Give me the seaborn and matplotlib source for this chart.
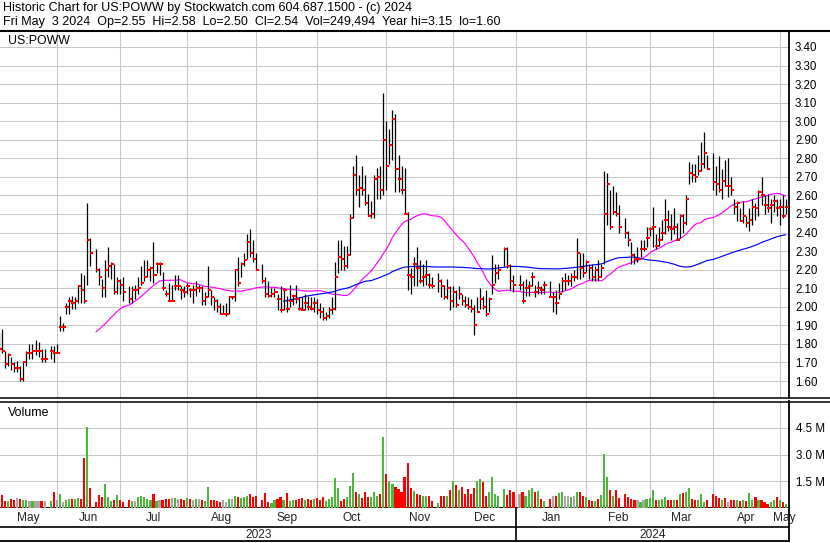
import numpy as np
import pandas as pd
import matplotlib
matplotlib.use("Agg")
import matplotlib.pyplot as plt
from matplotlib.lines import Line2D
import seaborn as sns

# ---------------- data (daily high / low / close, volume in millions) ----------------
start_date = "2023-05-05"
end_date = "2024-05-03"
holidays = ["2023-05-29", "2023-06-19", "2023-07-04", "2023-09-04", "2023-11-23",
            "2023-12-25", "2024-01-01", "2024-01-15", "2024-02-19", "2024-03-29"]

high_may23 = [1.86,1.88,1.76,1.75,1.73,1.70,1.71,1.68,1.71,1.76,1.80,1.80,1.82,1.81,1.77,1.77,1.79,1.79]
low_may23 = [1.72,1.75,1.67,1.68,1.66,1.65,1.65,1.60,1.60,1.68,1.72,1.72,1.74,1.73,1.70,1.70,1.72,1.70]
close_may23 = [1.77,1.76,1.69,1.74,1.69,1.67,1.67,1.61,1.70,1.75,1.75,1.76,1.76,1.76,1.72,1.72,1.76,1.75]
vol_may23 = [0.45,0.75,0.40,0.40,0.50,0.45,0.55,0.50,0.45,0.45,0.42,0.40,0.42,0.40,0.40,0.42,0.40,0.90]

high_jun23 = [1.80,1.95,1.91,2.02,2.05,2.06,2.05,2.12,2.18,2.17,2.56,2.37,2.31,2.21,2.15,2.25,2.32,2.24,2.23,2.16,2.15]
low_jun23 = [1.75,1.87,1.87,1.96,1.96,1.99,1.99,2.02,2.02,2.02,2.12,2.22,2.19,2.12,2.05,2.05,2.16,2.15,2.07,2.07,2.07]
close_jun23 = [1.75,1.89,1.89,2.00,2.03,2.02,2.03,2.11,2.09,2.03,2.36,2.29,2.20,2.16,2.10,2.20,2.22,2.23,2.08,2.14,2.12]
vol_jun23 = [0.45,0.80,0.35,0.45,0.50,0.50,0.50,0.55,0.50,2.80,4.55,1.10,0.35,0.75,0.60,1.35,0.60,0.40,0.45,0.75,0.45]

high_jul23 = [2.16,2.11,2.11,2.12,2.16,2.22,2.25,2.25,2.22,2.35,2.24,2.24,2.19,2.09,2.13,2.12,2.17,2.17,2.11,2.11]
low_jul23 = [2.03,2.02,2.02,2.04,2.07,2.12,2.14,2.16,2.14,2.13,2.18,2.17,2.09,2.06,2.03,2.03,2.09,2.09,2.04,2.05]
close_jul23 = [2.08,2.04,2.09,2.09,2.10,2.13,2.16,2.20,2.21,2.17,2.23,2.23,2.10,2.07,2.03,2.03,2.11,2.11,2.09,2.08]
vol_jul23 = [0.35,0.45,0.40,0.40,0.60,0.70,0.60,0.50,0.45,0.80,0.40,0.45,0.45,0.50,0.50,0.55,0.55,0.50,0.50,0.45]

high_aug23 = [2.13,2.10,2.12,2.14,2.12,2.11,2.08,2.22,2.09,2.05,2.04,2.02,2.01,2.02,2.06,2.06,2.20,2.27,2.24,2.29,2.39,2.42,2.36]
low_aug23 = [2.07,2.05,2.02,2.06,2.08,2.01,2.01,2.05,2.01,1.98,1.97,1.96,1.96,1.95,1.96,2.04,2.03,2.11,2.16,2.22,2.26,2.27,2.24]
close_aug23 = [2.11,2.09,2.09,2.10,2.10,2.03,2.05,2.09,2.05,2.03,2.00,1.96,1.96,1.96,2.05,2.05,2.20,2.13,2.23,2.25,2.35,2.29,2.26]
vol_aug23 = [0.55,0.50,0.45,0.50,0.50,0.45,0.40,1.15,0.45,0.45,0.40,0.35,0.45,0.35,0.50,0.50,0.65,0.60,0.55,0.60,0.65,0.80,0.60]

high_sep23 = [2.29,2.23,2.16,2.14,2.10,2.10,2.07,2.11,2.10,2.06,2.12,2.07,2.12,2.05,2.05,2.07,2.06,2.05,2.05,2.04]
low_sep23 = [2.20,2.13,2.05,2.05,2.05,2.05,1.98,1.97,1.98,1.97,2.00,2.01,2.02,1.98,1.98,1.98,1.98,1.98,1.97,1.96]
close_sep23 = [2.20,2.14,2.07,2.06,2.07,2.08,2.04,1.98,2.09,1.99,2.03,2.06,2.04,1.99,1.98,2.02,2.00,1.99,2.02,1.98]
vol_sep23 = [0.65,0.45,0.85,0.35,0.30,0.45,0.50,0.60,0.45,0.85,0.40,0.45,0.45,0.50,0.55,0.45,0.50,0.45,0.50,0.55]

high_oct23 = [2.02,2.00,1.97,2.00,2.05,2.24,2.36,2.36,2.33,2.33,2.50,2.76,2.82,2.71,2.76,2.71,2.61,2.57,2.71,2.75,2.76,3.15]
low_oct23 = [1.94,1.93,1.93,1.94,1.96,1.98,2.18,2.20,2.20,2.21,2.28,2.48,2.60,2.54,2.60,2.55,2.49,2.48,2.48,2.58,2.58,2.60]
close_oct23 = [1.97,1.94,1.95,1.98,1.99,2.16,2.27,2.26,2.22,2.28,2.48,2.71,2.63,2.64,2.63,2.56,2.49,2.50,2.69,2.70,2.63,2.90]
vol_oct23 = [0.45,0.60,0.40,0.50,0.60,1.70,1.10,0.40,0.50,0.60,1.25,1.95,0.90,0.80,0.55,0.90,0.60,0.60,0.90,0.70,0.80,4.00]

high_nov23 = [3.00,2.96,3.06,3.04,2.82,2.76,2.75,2.51,2.21,2.27,2.32,2.25,2.23,2.25,2.18,2.16,2.18,2.15,2.12,2.15,2.11]
low_nov23 = [2.63,2.77,2.79,2.62,2.62,2.61,2.50,2.09,2.07,2.11,2.11,2.13,2.11,2.12,2.10,2.10,2.08,2.05,2.04,2.04,1.98]
close_nov23 = [2.76,2.87,3.01,2.74,2.69,2.63,2.50,2.17,2.16,2.23,2.21,2.14,2.16,2.17,2.12,2.11,2.14,2.11,2.05,2.10,2.03]
vol_nov23 = [1.90,1.50,1.35,1.20,1.05,0.90,1.75,2.50,1.10,0.95,0.80,0.75,0.70,0.70,0.70,0.40,0.30,0.70,0.70,0.70,1.00]

high_dec23 = [2.11,2.09,2.11,2.07,2.06,2.05,2.04,2.01,2.05,2.10,2.06,2.09,2.05,2.28,2.23,2.23,2.32,2.32,2.23,2.17]
low_dec23 = [2.00,2.00,2.04,2.01,2.00,1.99,1.97,1.85,1.97,1.99,1.99,1.95,1.97,2.07,2.13,2.15,2.22,2.21,2.09,2.08]
close_dec23 = [2.08,2.01,2.07,2.03,2.01,2.00,1.99,1.90,1.97,2.04,2.00,1.96,2.04,2.12,2.18,2.20,2.31,2.22,2.14,2.12]
vol_dec23 = [1.50,1.30,1.00,1.15,0.80,1.05,0.80,1.10,1.50,1.60,1.45,0.70,0.90,1.75,0.80,0.70,1.05,0.75,1.00,0.90]

high_jan24 = [2.17,2.14,2.15,2.14,2.19,2.12,2.14,2.11,2.14,2.14,2.08,2.09,2.13,2.16,2.18,2.17,2.18,2.20,2.37,2.29,2.29]
low_jan24 = [2.09,2.02,2.06,2.06,2.11,2.05,2.07,2.07,2.07,2.05,1.97,1.96,2.04,2.08,2.09,2.12,2.11,2.14,2.15,2.15,2.16]
close_jan24 = [2.12,2.03,2.10,2.11,2.16,2.08,2.10,2.09,2.12,2.05,2.05,2.02,2.07,2.14,2.14,2.14,2.16,2.16,2.29,2.21,2.18]
vol_jan24 = [0.80,0.90,0.70,1.00,1.10,0.90,0.95,0.50,0.40,0.50,0.70,0.70,0.85,0.90,0.70,0.70,0.60,0.70,0.90,0.90,0.70]

high_feb24 = [2.25,2.23,2.23,2.22,2.25,2.23,2.73,2.72,2.63,2.65,2.62,2.55,2.48,2.41,2.35,2.29,2.32,2.36,2.36,2.43]
low_feb24 = [2.19,2.15,2.14,2.14,2.14,2.16,2.23,2.44,2.42,2.50,2.49,2.40,2.37,2.33,2.23,2.23,2.24,2.27,2.30,2.32]
close_feb24 = [2.24,2.21,2.16,2.20,2.16,2.21,2.50,2.66,2.43,2.51,2.50,2.43,2.40,2.36,2.28,2.26,2.26,2.31,2.31,2.37]
vol_feb24 = [0.60,0.45,0.40,0.40,0.50,0.75,3.05,1.75,1.00,0.65,1.00,0.55,0.80,0.60,0.50,0.45,0.45,0.35,0.45,0.50]

high_mar24 = [2.43,2.54,2.39,2.43,2.47,2.58,2.52,2.50,2.53,2.45,2.50,2.50,2.60,2.78,2.77,2.77,2.82,2.89,2.94,2.82]
low_mar24 = [2.38,2.32,2.31,2.33,2.36,2.39,2.41,2.36,2.39,2.36,2.37,2.40,2.44,2.66,2.67,2.67,2.71,2.73,2.75,2.74]
close_mar24 = [2.42,2.43,2.33,2.36,2.40,2.47,2.43,2.42,2.43,2.36,2.49,2.45,2.58,2.72,2.71,2.70,2.73,2.77,2.83,2.74]
vol_mar24 = [0.55,1.00,0.45,0.45,0.50,0.60,0.45,0.45,0.45,0.45,0.80,0.85,0.90,1.10,0.50,0.45,0.45,0.80,0.35,0.45]

high_apr24 = [2.83,2.76,2.81,2.74,2.79,2.80,2.70,2.58,2.57,2.53,2.57,2.49,2.53,2.58,2.56,2.63,2.70,2.60,2.61,2.58,2.60,2.58]
low_apr24 = [2.63,2.60,2.62,2.58,2.65,2.59,2.60,2.50,2.46,2.46,2.45,2.43,2.41,2.44,2.47,2.49,2.55,2.50,2.51,2.45,2.51,2.49]
close_apr24 = [2.67,2.66,2.63,2.68,2.65,2.65,2.63,2.54,2.56,2.46,2.49,2.45,2.47,2.54,2.53,2.62,2.60,2.55,2.53,2.55,2.57,2.53]
vol_apr24 = [0.80,0.70,0.55,0.45,0.55,0.35,0.45,0.45,0.45,0.40,0.45,0.40,0.85,0.45,0.60,0.45,0.45,0.35,0.25,0.35,0.45,0.60]

high_may24 = [2.58,2.60,2.58]
low_may24 = [2.44,2.48,2.50]
close_may24 = [2.54,2.49,2.54]
vol_may24 = [0.45,0.35,0.249494]

month_names = ["May", "Jun", "Jul", "Aug", "Sep", "Oct", "Nov", "Dec",
               "Jan", "Feb", "Mar", "Apr", "May"]
year_names = ["2023", "2024"]
price_ticks = [1.60, 1.70, 1.80, 1.90, 2.00, 2.10, 2.20, 2.30, 2.40, 2.50,
               2.60, 2.70, 2.80, 2.90, 3.00, 3.10, 3.20, 3.30, 3.40]
vol_ticks = [1.5, 3.0, 4.5]
vol_tick_labels = ["1.5 M", "3.0 M", "4.5 M"]
header1 = "Historic Chart for US:POWW by Stockwatch.com 604.687.1500 - (c) 2024"
header2 = "Fri May  3 2024  Op=2.55  Hi=2.58  Lo=2.50  Cl=2.54  Vol=249,494  Year hi=3.15  lo=1.60"

# ---------------- assemble ----------------
months = ["may23", "jun23", "jul23", "aug23", "sep23", "oct23", "nov23", "dec23",
          "jan24", "feb24", "mar24", "apr24", "may24"]
g = globals()
high = sum((g["high_" + m] for m in months), [])
low = sum((g["low_" + m] for m in months), [])
close = sum((g["close_" + m] for m in months), [])
volume = sum((g["vol_" + m] for m in months), [])

dates = pd.bdate_range(start_date, end_date)
dates = dates[~dates.isin(pd.to_datetime(holidays))]
d0 = np.datetime64(start_date, "D")
xpos = np.busday_count(d0, dates.values.astype("datetime64[D]"))

df = pd.DataFrame({"x": xpos.astype(float), "high": high, "low": low,
                   "close": close, "vol": np.array(volume) * 1e6})
df["ma30"] = df["close"].rolling(30).mean()
df.loc[df.index[:30], "ma30"] = np.nan
df["ma90"] = df["close"].rolling(90).mean()
df.loc[df.index[:90], "ma90"] = np.nan

GREEN, RED, GRAY = "#4cb83a", "#ff0000", "#a8a8a8"
chg = df["close"].diff().round(4)
vcol = np.where(chg > 0, GREEN, np.where(chg < 0, RED, GRAY))

mstarts = pd.date_range("2023-06-01", "2024-05-01", freq="MS")
bounds = [float(np.busday_count(d0, np.busday_offset(np.datetime64(m.date(), "D"), 0, roll="backward")))
          for m in mstarts]

# ---------------- layout (pixel based) ----------------
W, H = 830, 543
PXD, X0 = 3.025, -0.8
xlim = ((0 - X0) / PXD, (789 - X0) / PXD)

def price_at(ypx):
    return 1.6 + (381 - ypx) / 185.56

def rect(x0, y0, x1, y1):
    return [x0 / W, 1 - y1 / H, (x1 - x0) / W, (y1 - y0) / H]

sns.set_theme(style="white")
plt.rcParams["font.family"] = ["Liberation Sans", "DejaVu Sans"]

fig = plt.figure(figsize=(W / 100, H / 100), dpi=100)
fig.patch.set_facecolor("white")
ax = fig.add_axes(rect(0, 31, 789, 398))
axv = fig.add_axes(rect(0, 401, 789, 508))
axm = fig.add_axes(rect(0, 508, 789, 541))

GRID = "#c8c8c8"
FS = 8.3

# price panel
sns.lineplot(data=df, x="x", y="ma30", color="#ff00ff", lw=0.85, ax=ax, zorder=2, errorbar=None)
sns.lineplot(data=df, x="x", y="ma90", color="#0000ff", lw=0.85, ax=ax, zorder=2, errorbar=None)
ax.vlines(df["x"], df["low"], df["high"], color="black", lw=0.9, zorder=3)
ax.hlines(df["close"], df["x"] - 0.1, df["x"] + 1.0, color="#ff0000", lw=1.45, zorder=4)
ax.set_xlim(xlim)
ax.set_ylim(price_at(398), price_at(31))
ax.set_yticks(price_ticks)
ax.set_yticklabels([f"{v:.2f}" for v in price_ticks])
ax.yaxis.tick_right()
ax.set_xticks(bounds)
ax.tick_params(axis="x", length=0, labelbottom=False)
ax.tick_params(axis="y", length=0, pad=4.3, labelsize=FS, colors="black")
ax.grid(True, color=GRID, lw=0.75)
ax.set_axisbelow(True)
ax.set_xlabel("")
ax.set_ylabel("")

# volume panel
axv.bar(df["x"], df["vol"], width=0.7, color=vcol, lw=0, zorder=3)
axv.set_xlim(xlim)
axv.set_ylim(0, 6.0e6)
axv.set_yticks([v * 1e6 for v in vol_ticks])
axv.set_yticklabels(vol_tick_labels)
axv.yaxis.tick_right()
axv.set_xticks(bounds)
axv.tick_params(axis="x", length=0, labelbottom=False)
axv.tick_params(axis="y", length=0, pad=5.0, labelsize=FS, colors="black")
axv.grid(True, color=GRID, lw=0.75)
axv.set_axisbelow(True)

# month / year band
axm.set_xlim(xlim)
axm.set_ylim(541, 508)
axm.set_xticks([])
axm.set_yticks([])
axm.axhline(527, color="black", lw=1.2)
jan_b = bounds[7]
axm.vlines([jan_b], 508, 541, color="black", lw=1.2)
edges = [xlim[0]] + bounds + [xlim[1]]
for i, name in enumerate(month_names):
    axm.text((edges[i] + edges[i + 1]) / 2, 518, name, ha="center", va="center", fontsize=FS + 0.3)
axm.text((xlim[0] + jan_b) / 2, 535, year_names[0], ha="center", va="center", fontsize=FS + 0.3)
axm.text((jan_b + xlim[1]) / 2, 535, year_names[1], ha="center", va="center", fontsize=FS + 0.3)

for a in (ax, axv, axm):
    a.set_facecolor("white")
    a.spines["left"].set_visible(False)
    for s in ("top", "right", "bottom"):
        a.spines[s].set_color("black")
        a.spines[s].set_linewidth(1.3)
axm.spines["top"].set_visible(False)
ax.spines["top"].set_visible(False)
ax.spines["bottom"].set_visible(False)
axv.spines["top"].set_visible(False)

# full-width separators
for ypx, lw in ((30.5, 1.5), (398.0, 1.1), (401.5, 1.1)):
    fig.add_artist(Line2D([0, 1], [1 - ypx / H] * 2, color="black", lw=lw, transform=fig.transFigure))

# texts
fig.text(3 / W, 1 - 8 / H, header1, ha="left", va="center", fontsize=9.0, color="black")
fig.text(3 / W, 1 - 21.5 / H, header2, ha="left", va="center", fontsize=9.0, color="black")
fig.text(8 / W, 1 - 41 / H, "US:POWW", ha="left", va="center", fontsize=8.9, color="black")
fig.text(8 / W, 1 - 413 / H, "Volume", ha="left", va="center", fontsize=8.9, color="black")

fig.savefig("out.png", dpi=100, facecolor="white")
